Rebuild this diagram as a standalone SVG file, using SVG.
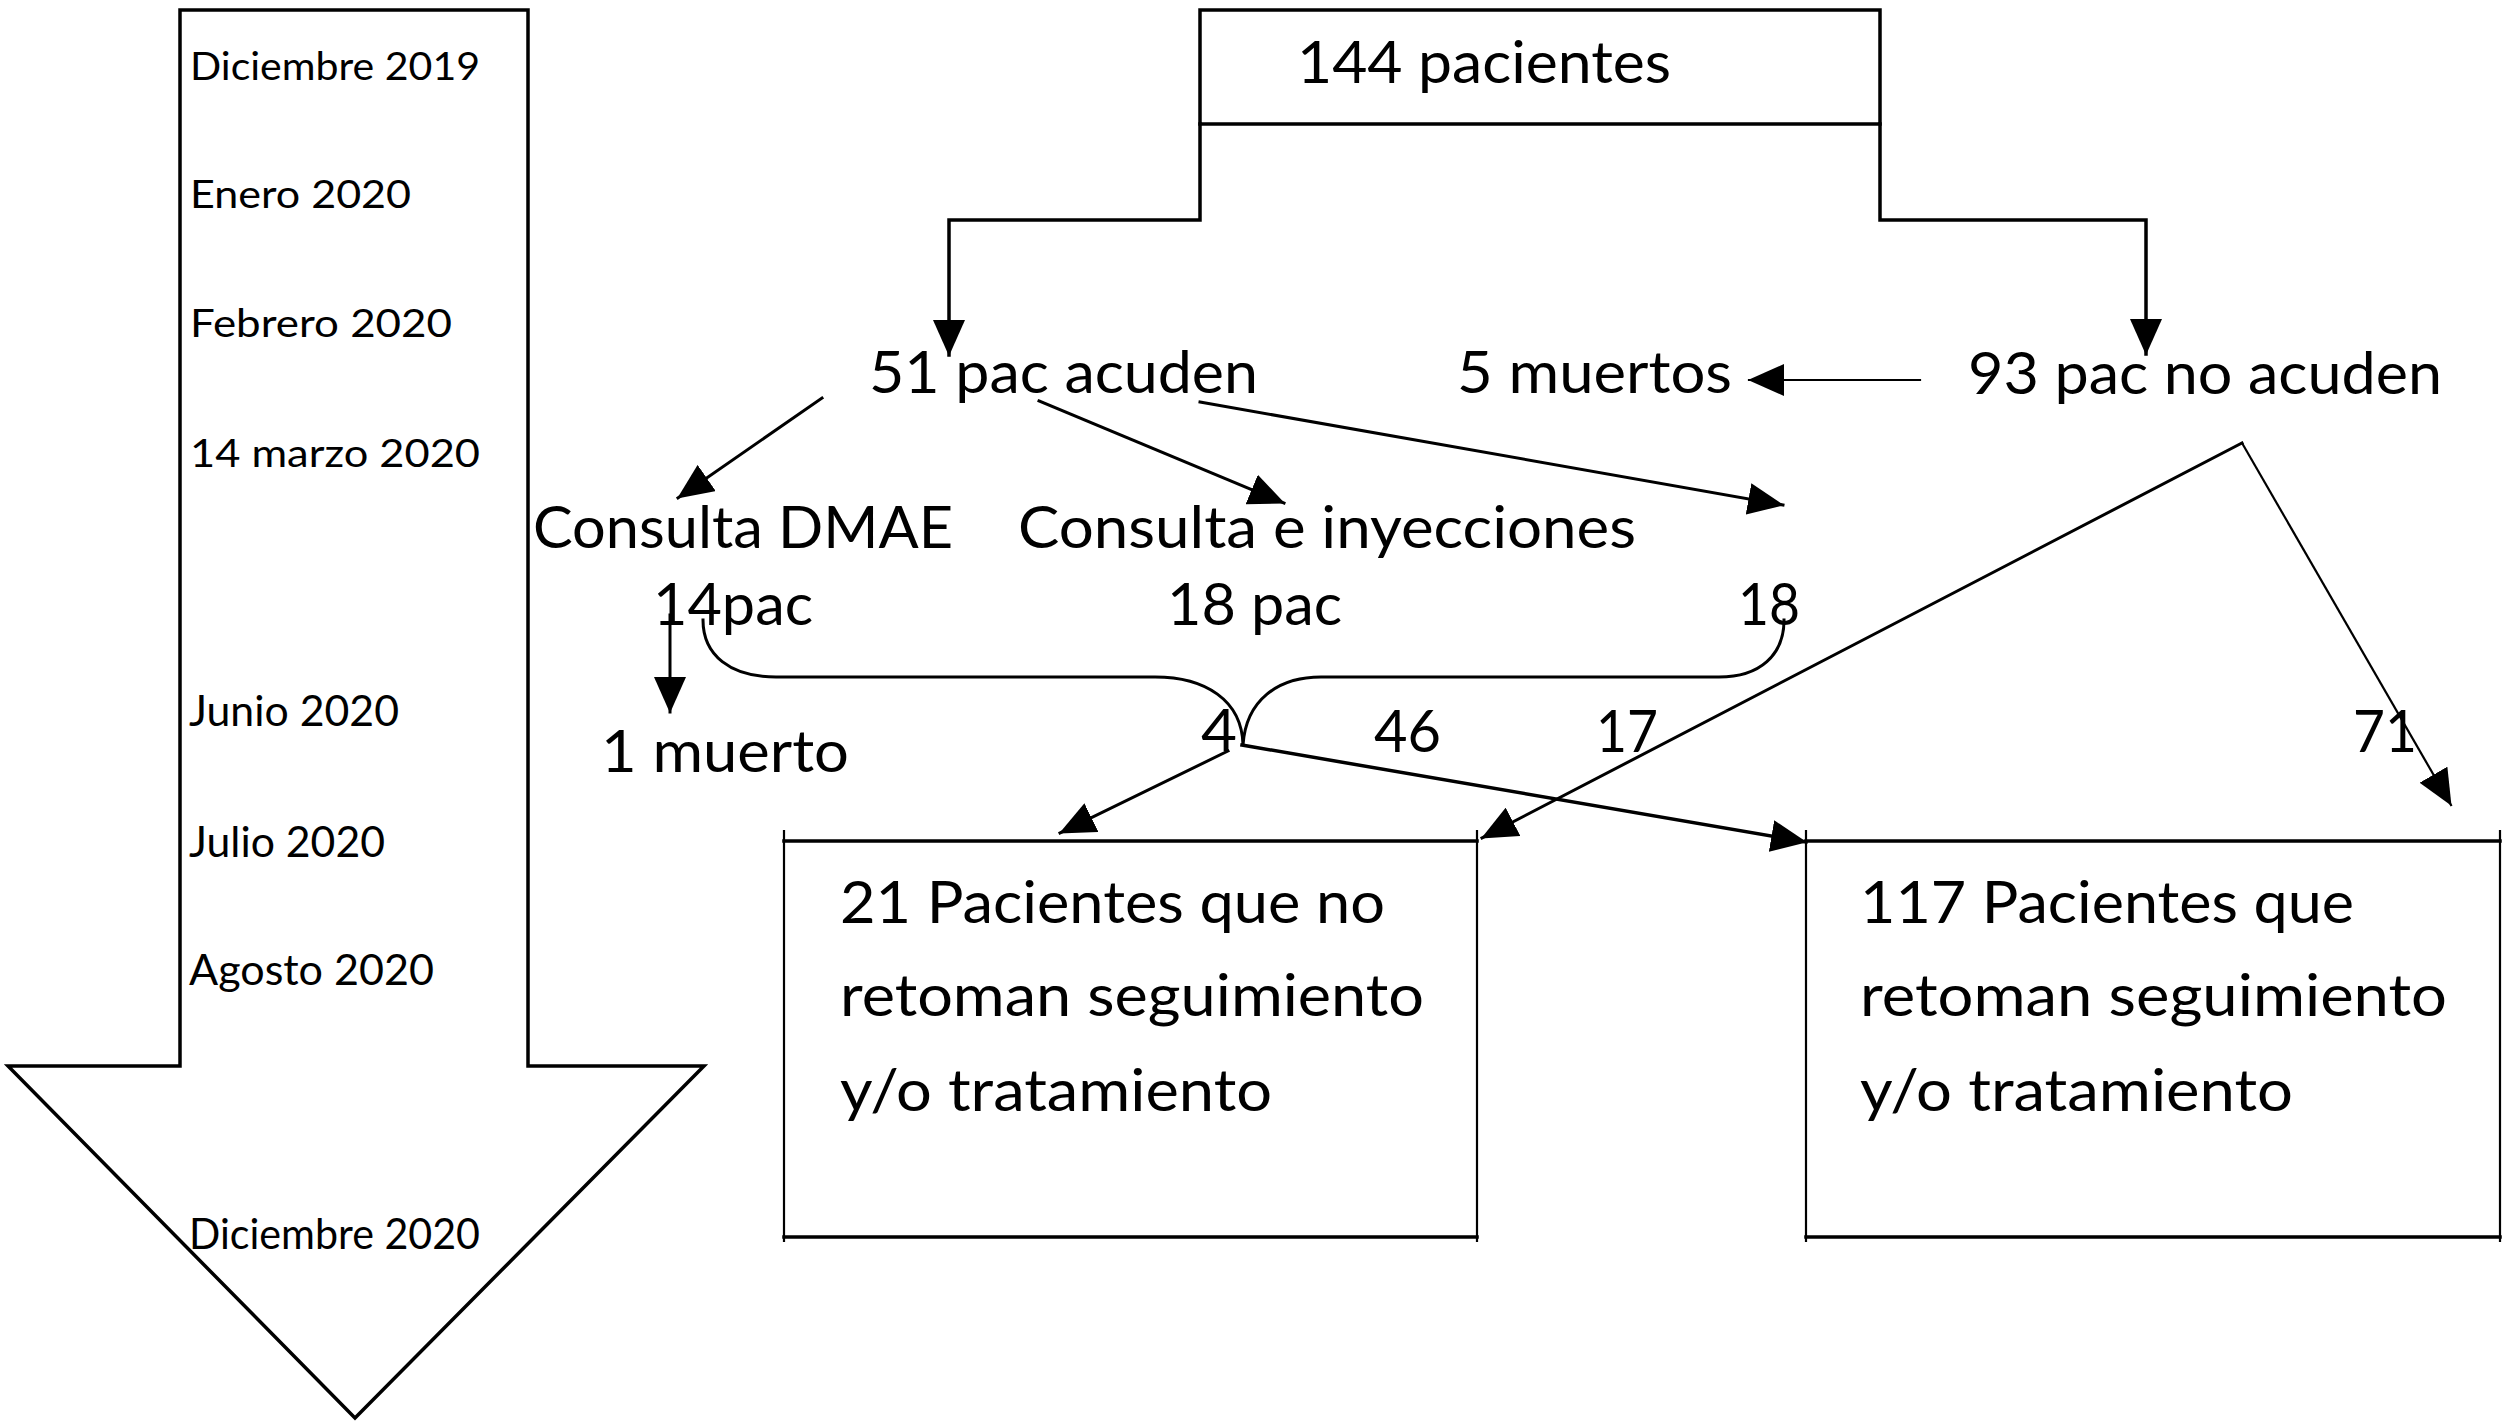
<svg xmlns="http://www.w3.org/2000/svg" width="2508" height="1423" viewBox="0 0 2508 1423">
<style>
text{font-family:Lato,"Noto Sans","Liberation Sans",sans-serif;fill:#000}
.t{font-size:38px}
.t2{font-size:42px}
.m{font-size:58px}
.ln{fill:none;stroke:#000;stroke-width:3;stroke-linecap:square}
.th{stroke-width:3.5}
.tn{stroke-width:2.2}
.ar{marker-end:url(#ah)}
</style>
<defs>
<marker id="ah" markerUnits="userSpaceOnUse" markerWidth="36" markerHeight="32" refX="35" refY="16" orient="auto" viewBox="0 0 36 32">
<path d="M0,0 L36,16 L0,32 z" fill="#000"/>
</marker>
</defs>
<rect width="2508" height="1423" fill="#fff"/>

<g id="timeline">
<polygon points="180,10 528,10 528,1066 704,1066 355,1418 8,1066 180,1066" fill="#fff" stroke="#000" stroke-width="3.5" stroke-linejoin="miter"/>
<text class="t" x="190" y="80" textLength="290" lengthAdjust="spacingAndGlyphs">Diciembre 2019</text>
<text class="t" x="190" y="208" textLength="221" lengthAdjust="spacingAndGlyphs">Enero 2020</text>
<text class="t" x="190" y="337" textLength="262" lengthAdjust="spacingAndGlyphs">Febrero 2020</text>
<text class="t" x="190" y="467" textLength="290" lengthAdjust="spacingAndGlyphs">14 marzo 2020</text>
<text class="t2" x="189" y="726" textLength="210" lengthAdjust="spacingAndGlyphs">Junio 2020</text>
<text class="t2" x="189" y="857" textLength="196" lengthAdjust="spacingAndGlyphs">Julio 2020</text>
<text class="t2" x="189" y="985" textLength="245" lengthAdjust="spacingAndGlyphs">Agosto 2020</text>
<text class="t2" x="189" y="1249" textLength="291" lengthAdjust="spacingAndGlyphs">Diciembre 2020</text>
</g>

<g id="n144">
<path class="ln th" d="M1200,10 H1880 M1200,124 H1880 M1200,10 V124 M1880,10 V124"/>
<text class="m" x="1297" y="83" textLength="374" lengthAdjust="spacingAndGlyphs">144 pacientes</text>
</g>
<g id="n51"><text class="m" x="869" y="393" textLength="389" lengthAdjust="spacingAndGlyphs">51 pac acuden</text></g>
<g id="n5m"><text class="m" x="1457" y="393" textLength="275" lengthAdjust="spacingAndGlyphs">5 muertos</text></g>
<g id="n93"><text class="m" x="1968" y="394" textLength="474" lengthAdjust="spacingAndGlyphs">93 pac no acuden</text></g>
<g id="nDMAE">
<text class="m" x="533" y="548" textLength="420" lengthAdjust="spacingAndGlyphs">Consulta DMAE</text>
<text class="m" x="653" y="625" textLength="160" lengthAdjust="spacingAndGlyphs">14pac</text>
</g>
<g id="nIny">
<text class="m" x="1018" y="548" textLength="618" lengthAdjust="spacingAndGlyphs">Consulta e inyecciones</text>
<text class="m" x="1167" y="625" textLength="175" lengthAdjust="spacingAndGlyphs">18 pac</text>
</g>
<g id="n18"><text class="m" x="1738" y="625" textLength="62" lengthAdjust="spacingAndGlyphs">18</text></g>
<g id="n1m"><text class="m" x="601" y="772" textLength="248" lengthAdjust="spacingAndGlyphs">1 muerto</text></g>
<g id="box21">
<path class="ln th" d="M784,841 H1477 M784,1237 H1477"/>
<path class="ln tn" d="M784,831 V1241 M1477,831 V1241"/>
<text class="m" x="840" y="923" textLength="545" lengthAdjust="spacingAndGlyphs">21 Pacientes que no</text>
<text class="m" x="840" y="1016" textLength="584" lengthAdjust="spacingAndGlyphs">retoman seguimiento</text>
<text class="m" x="840" y="1111" textLength="432" lengthAdjust="spacingAndGlyphs">y/o tratamiento</text>
</g>
<g id="box117">
<path class="ln th" d="M1806,841 H2500 M1806,1237 H2500"/>
<path class="ln tn" d="M1806,831 V1241 M2500,831 V1241"/>
<text class="m" x="1860" y="923" textLength="494" lengthAdjust="spacingAndGlyphs">117 Pacientes que</text>
<text class="m" x="1860" y="1016" textLength="587" lengthAdjust="spacingAndGlyphs">retoman seguimiento</text>
<text class="m" x="1860" y="1111" textLength="433" lengthAdjust="spacingAndGlyphs">y/o tratamiento</text>
</g>

<g id="connectors">
<path class="ln th ar" d="M1200,124 V220 H949 V355"/>
<path class="ln th ar" d="M1880,124 V220 H2146 V354"/>
<path class="ln tn ar" d="M1920,380 H1749"/>
<path class="ln ar" d="M822,398 L678,498"/>
<path class="ln ar" d="M1039,401 L1284,503"/>
<path class="ln ar" d="M1200,402 L1783,505"/>
<path class="ln ar" d="M670,615 V712"/>
<path class="ln" d="M703,620 C703,655 730,677 776,677 H1155 C1205,677 1242,700 1243,745 C1246,700 1278,677 1321,677 H1719 C1760,677 1784,655 1784,620"/>
<path class="ln ar" d="M1228,751 L1060,833"/>
<path class="ln th ar" d="M1242,745 L1806,842"/>
<path class="ln ar" d="M2242,443 L1482,838"/>
<path class="ln tn ar" d="M2242,443 L2451,805"/>
</g>
<g id="labels">
<text class="m" x="1201" y="751" textLength="36" lengthAdjust="spacingAndGlyphs">4</text>
<text class="m" x="1374" y="752" textLength="67" lengthAdjust="spacingAndGlyphs">46</text>
<text class="m" x="1596" y="752" textLength="62" lengthAdjust="spacingAndGlyphs">17</text>
<text class="m" x="2353" y="752" textLength="64" lengthAdjust="spacingAndGlyphs">71</text>
</g>
</svg>
